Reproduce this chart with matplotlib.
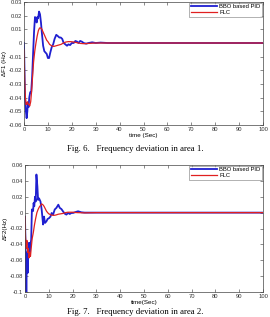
import matplotlib.pyplot as plt
from matplotlib.ticker import FuncFormatter

# area 1 - BBO based PID
t1_pid = [0, 0.4, 0.8, 1.1, 1.4, 1.6, 1.9, 2.2, 2.6, 3.0, 3.4, 3.8, 4.2, 4.6, 5.0,
          5.3, 5.6, 5.9, 6.3, 6.7, 7.1, 7.5, 8.0, 8.5, 9.0, 9.5, 10.0, 10.5, 11.0,
          11.6, 12.2, 12.8, 13.5, 14.2, 14.8, 15.4, 16.0, 16.6, 17.3, 18.0, 18.6,
          19.3, 20.0, 20.8, 21.5, 22.2, 22.8, 23.5, 24.2, 25.0, 26.0, 27.0, 28.5,
          30.0, 32.0, 35.0, 100]
f1_pid = [0, -0.04, -0.05, -0.055, -0.05, -0.044, -0.047, -0.04, -0.036, -0.036,
          -0.025, -0.008, 0.008, 0.019, 0.018, 0.015, 0.019, 0.018, 0.023, 0.021,
          0.015, 0.007, -0.002, -0.006, -0.007, -0.008, -0.011, -0.011, -0.007,
          -0.003, -0.001, 0.003, 0.006, 0.005, 0.004, 0.004, 0.003, 0.0, -0.001,
          -0.002, -0.001, -0.0015, 0.0, 0.0, 0.0015, 0.001, 0.0, 0.0015, 0.001,
          0.0, -0.0005, 0.0, 0.0005, 0.0, 0.0003, 0.0, 0.0]

# area 1 - FLC
t1_flc = [0, 0.3, 0.6, 0.9, 1.2, 1.5, 1.8, 2.1, 2.4, 2.8, 3.2, 3.6, 4.0, 4.5, 5.0,
          5.5, 6.0, 6.5, 7.0, 7.5, 8.0, 8.5, 9.0, 9.5, 10.0, 10.7, 11.5, 12.5,
          13.5, 14.5, 15.5, 16.5, 17.5, 18.5, 19.5, 20.5, 22, 23.5, 25, 27, 30, 100]
f1_flc = [-0.005, -0.028, -0.04, -0.045, -0.044, -0.043, -0.045, -0.045, -0.046,
          -0.043, -0.035, -0.024, -0.014, -0.006, 0.0, 0.005, 0.009, 0.011, 0.011,
          0.010, 0.008, 0.006, 0.004, 0.002, 0.001, -0.001, -0.002, -0.0025, -0.002,
          -0.0015, -0.001, 0.0, 0.0007, 0.001, 0.001, 0.0008, 0.0003, -0.0003,
          -0.0005, -0.0003, 0.0, 0.0]

# area 2 - BBO based PID
t2_pid = [0, 0.56, 0.84, 1.1, 1.4, 1.7, 2.0, 2.2, 2.6, 2.9, 3.4, 3.6, 3.9, 4.2,
          4.5, 4.8, 5.2, 5.5, 5.9, 6.5, 7.0, 7.6, 8.0, 8.4, 9.0, 9.5, 10.1, 10.7,
          11.2, 11.8, 12.5, 13.2, 14.0, 14.6, 15.3, 16.0, 16.7, 17.4, 18.1, 18.8,
          19.5, 20.2, 21.3, 22.3, 23.7, 25.1, 30, 100]
f2_pid = [-0.005, -0.1, -0.05, -0.076, -0.047, -0.038, -0.055, -0.042, -0.034,
          0.004, 0.002, 0.012, 0.008, 0.02, 0.014, 0.048, 0.033, 0.016, 0.018,
          0.014, 0.004, -0.015, -0.005, -0.013, -0.011, -0.008, -0.007, -0.005,
          -0.0005, -0.0025, 0.004, 0.006, 0.01, 0.006, 0.0045, 0.0015, -0.0013,
          -0.0025, -0.0004, -0.0017, -0.0004, -0.0004, 0.0008, 0.0017, 0.0004, 0.0,
          0.0, 0.0]

# area 2 - FLC
t2_flc = [0, 0.2, 0.5, 0.8, 1.1, 1.4, 1.7, 2.0, 2.3, 2.6, 3.0, 3.5, 4.0, 4.5, 5.0,
          5.5, 6.0, 6.5, 7.0, 7.5, 8.0, 8.5, 9.0, 9.5, 10, 11, 12, 13, 14, 15, 16,
          17, 18, 20, 22, 25, 30, 100]
f2_flc = [-0.005, -0.03, -0.045, -0.035, -0.05, -0.045, -0.057, -0.05, -0.055,
          -0.045, -0.033, -0.025, -0.015, -0.007, 0.0, 0.004, 0.007, 0.009, 0.011,
          0.01, 0.008, 0.005, 0.002, 0.0, -0.0015, -0.003, -0.0035, -0.003, -0.002,
          -0.0015, -0.001, 0.0, 0.0005, 0.0005, 0.0, -0.0003, 0.0, 0.0]

xticks = list(range(0, 101, 10))
yticks1 = [-0.06, -0.05, -0.04, -0.03, -0.02, -0.01, 0, 0.01, 0.02, 0.03]
yticks2 = [-0.1, -0.08, -0.06, -0.04, -0.02, 0, 0.02, 0.04, 0.06]

plt.rcParams['axes.unicode_minus'] = False
plt.rcParams['font.family'] = ['Liberation Sans', 'DejaVu Sans']

W, H = 270, 317
fig = plt.figure(figsize=(W / 100, H / 100), dpi=100)


def px_axes(left, top, right, bottom):
    return fig.add_axes([left / W, 1 - bottom / H, (right - left) / W, (bottom - top) / H])


def style(ax, yticks, ylim, xlabel, ylabel):
    ax.set_xlim(0, 100)
    ax.set_ylim(*ylim)
    ax.set_xticks(xticks)
    ax.set_yticks(yticks)
    ax.yaxis.set_major_formatter(FuncFormatter(lambda v, p: '%g' % round(v, 4)))
    ax.tick_params(direction='in', length=2, width=0.4, labelsize=4.2, pad=1.5,
                   top=True, right=True, colors='#333333')
    for s in ax.spines.values():
        s.set_linewidth(0.5)
        s.set_color('#444444')
    ax.set_xlabel(xlabel, fontsize=4.5, labelpad=1)
    ax.set_ylabel(ylabel, fontsize=4.5, labelpad=1)
    leg = ax.legend(loc='upper right', fontsize=4.2, frameon=True, fancybox=False,
                    borderpad=0.3, handlelength=4.5, handletextpad=0.4,
                    labelspacing=0.1, borderaxespad=0.1)
    leg.get_frame().set_linewidth(0.4)
    leg.get_frame().set_edgecolor('#555555')


ax1 = px_axes(24, 2, 263, 125)
ax1.plot(t1_pid, f1_pid, color='#1f1fd0', lw=1.3, label='BBO based PID')
ax1.plot(t1_flc, f1_flc, color='#e02020', lw=0.9, label='FLC')
style(ax1, yticks1, (-0.06, 0.03), 'time (Sec)', 'ΔF1 (Hz)')

ax2 = px_axes(25, 165, 263, 292)
ax2.plot(t2_pid, f2_pid, color='#1f1fd0', lw=1.3, label='BBO based PID')
ax2.plot(t2_flc, f2_flc, color='#e02020', lw=0.9, label='FLC')
style(ax2, yticks2, (-0.1, 0.06), 'time(Sec)', 'ΔF2(Hz)')

fig.text(0.5, 1 - 149 / H, 'Fig. 6.   Frequency deviation in area 1.',
         ha='center', va='center', fontsize=6.3, family='Liberation Serif')
fig.text(0.5, 1.5 / H, 'Fig. 7.   Frequency deviation in area 2.',
         ha='center', va='bottom', fontsize=6.3, family='Liberation Serif')

fig.savefig('out.png', dpi=100)
